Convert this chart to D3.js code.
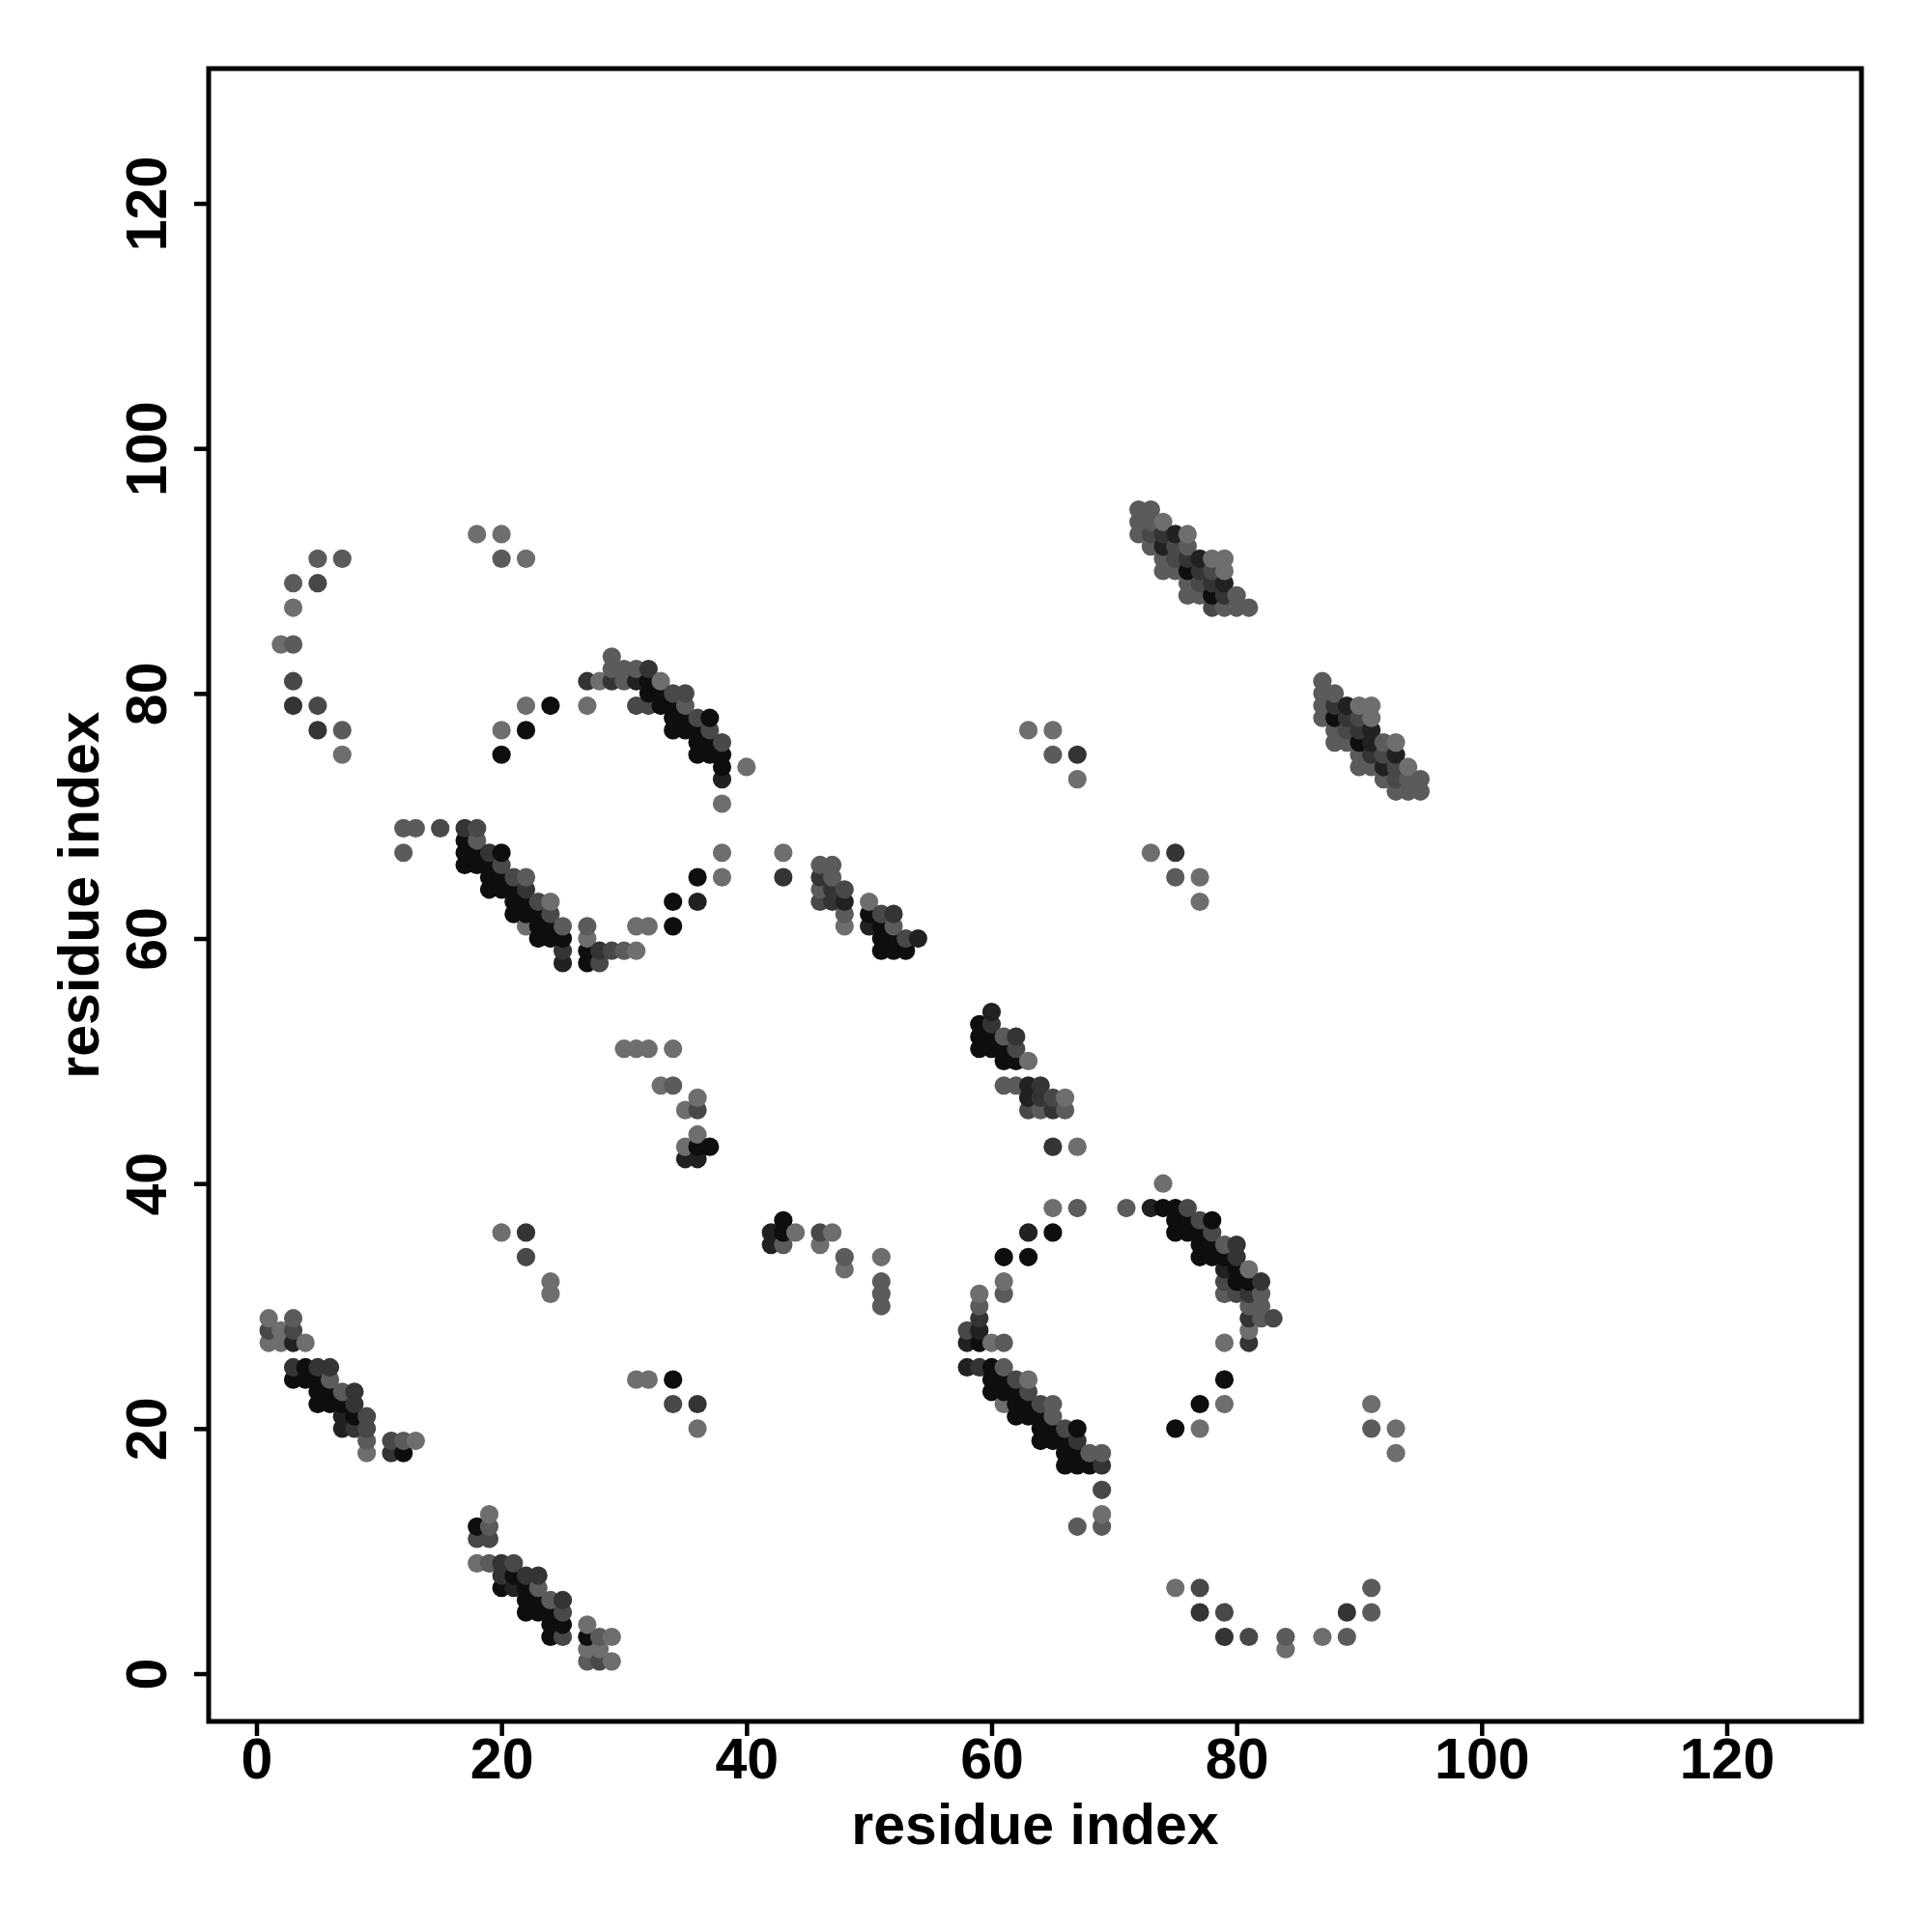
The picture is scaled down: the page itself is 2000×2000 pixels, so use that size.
<!DOCTYPE html>
<html>
<head>
<meta charset="utf-8">
<script src="https://cdn.jsdelivr.net/npm/d3@7"></script>
<style>
  html, body { margin: 0; padding: 0; background: #ffffff; }
  svg { display: block; }
</style>
</head>
<body>
<div id="chart"></div>
<script>
// Contacts (residue i, residue j) grouped by predicted confidence level (darker = higher)
const confidenceLevels = [0.95, 0.8, 0.65, 0.5, 0.35, 0.2];

const contactsLevel1 = [
  [24,79],[22,77],[20,75],
  [32,81],[32,80],[33,80],[33,79],[34,79],[34,78],[35,78],[37,78],[34,77],[35,77],[36,77],[36,76],[37,76],[36,75],[37,75],[38,75],[38,74],[36,65],[34,63],[34,61],
  [17,68],[17,67],[18,67],[20,67],[17,66],[18,66],[19,66],[19,65],[20,65],[19,64],[20,64],[21,64],[21,63],[22,63],[21,62],[22,62],[23,62],[23,61],[24,61],[23,60],[24,60],[25,60],[27,59],[27,58],
  [50,62],[51,61],[51,60],[52,60],[51,59],[52,59],[53,59],
  [76,90],[78,88],[88,78],[90,76],
  [36,43],[37,43],[43,37],[43,36],
  [59,53],[59,52],[60,52],[59,51],[60,51],[61,51],[61,50],[62,50],[65,36],[61,34],[63,34],
  [59,27],[60,25],[60,24],[61,24],[60,23],[61,23],[62,23],[62,22],[63,22],[62,21],[63,21],[64,21],[64,20],[65,20],[67,20],[64,19],[65,19],[66,19],[66,18],[67,18],[66,17],[67,17],[68,17],
  [74,38],[75,38],[75,37],[76,37],[78,37],[75,36],[76,36],[77,36],[77,35],[78,35],[77,34],[78,34],[79,34],[80,33],[80,32],[81,32],[79,24],[77,22],[75,20],
  [4,25],[3,24],[4,24],[5,24],[5,23],[6,23],[5,22],[6,22],[7,22],[8,21],[12,18],[34,24],
  [18,12],[21,8],[20,7],[22,7],[22,6],[23,6],[22,5],[23,5],[24,5],[24,4],[25,4],[24,3],[27,3]
];

const contactsLevel2 = [
  [31,81],[38,73],[36,63],[25,58],[48,63],[50,61],[54,60],[75,93],[74,92],[77,91],[79,89],[89,79],[91,77],[91,76],[93,75],[92,74],
  [35,42],[36,42],[42,36],[42,35],[60,54],[63,48],[63,47],[63,36],[59,28],[58,27],[58,25],[73,38],[79,33],[3,27],[7,21],[7,20],[21,7]
];

const contactsLevel3 = [
  [3,79],[5,77],[32,82],[27,81],[29,81],[17,69],[19,67],[22,64],[25,59],[28,59],[43,65],[46,65],[47,64],[47,63],[52,62],
  [74,93],[76,91],[77,90],[78,89],[79,88],[88,79],[89,78],[90,77],[91,75],[67,75],[75,67],[22,36],[60,53],[62,52],[64,48],[64,47],[65,46],[65,43],
  [59,29],[59,25],[67,19],[69,17],[80,35],[80,34],[82,32],[81,31],[81,29],[81,27],[3,25],[5,25],[6,25],[8,23],[8,22],[8,20],[11,18],[36,22],
  [20,9],[20,8],[22,8],[23,8],[25,6],[77,5],[79,3],[89,5]
];

const contactsLevel4 = [
  [5,89],[3,81],[5,79],[34,80],[35,80],[31,79],[32,79],[36,78],[37,77],[38,76],[15,69],[18,69],[20,66],[21,65],[23,63],[24,62],[29,59],[28,58],
  [48,64],[46,63],[51,62],[53,60],[73,93],[75,92],[75,91],[78,90],[77,89],[78,87],[90,78],[89,77],[92,75],[93,74],[93,73],[36,46],[22,34],[46,36],
  [62,51],[65,47],[63,46],[58,28],[62,24],[63,23],[64,22],[66,20],[69,15],[76,38],[77,37],[78,36],[79,32],[80,31],[83,29],
  [1,28],[3,28],[9,21],[9,20],[11,19],[34,22],[18,11],[19,11],[21,9],[25,5],[25,3],[28,1],[77,7],[79,5],[81,3]
];

const contactsLevel5 = [
  [5,91],[7,91],[20,91],[3,89],[3,84],[7,77],[29,83],[29,82],[30,82],[31,82],[30,81],[35,79],[12,69],[13,69],[12,67],[18,68],[22,65],[25,61],[27,61],[30,59],
  [46,66],[47,66],[47,65],[46,64],[48,62],[52,61],
  [72,95],[73,95],[72,94],[73,94],[72,93],[73,92],[76,92],[74,91],[74,90],[75,90],[76,89],[76,88],[77,88],[80,88],[79,87],[80,87],[81,87],
  [87,81],[87,80],[88,80],[87,79],[87,78],[88,77],[88,76],[89,76],[92,76],[90,75],[90,74],[91,74],[92,73],[94,73],[95,73],[93,72],[94,72],[95,72],
  [65,75],[75,65],[34,48],[43,35],[48,34],[51,32],[51,31],[51,30],
  [61,52],[61,48],[62,48],[64,46],[66,46],[67,38],
  [61,31],[59,30],[61,27],[61,25],[65,22],[65,21],[68,18],[69,18],[69,12],[67,12],
  [71,38],[79,35],[79,31],[82,31],[81,30],[82,30],[82,29],
  [3,29],[6,24],[7,23],[9,19],[12,19],
  [19,12],[19,9],[23,7],[24,6],[28,3],[27,1],
  [91,20],[84,3],[89,3],[91,5],[91,7]
];

const contactsLevel6 = [
  [18,93],[20,93],[22,91],[3,87],[2,84],[7,75],[22,79],[20,77],
  [28,81],[33,81],[27,79],[40,74],[38,71],[38,67],[38,65],[24,63],[22,61],[31,61],[32,61],[27,60],[31,59],
  [43,67],[48,61],[50,63],
  [74,94],[76,93],[78,91],[79,91],[79,90],
  [90,79],[91,79],[91,78],[93,76],[94,74],
  [63,77],[65,77],[67,73],[73,67],[77,65],[77,63],
  [30,51],[31,51],[32,51],[34,51],[33,48],[36,47],[35,46],[36,44],[35,43],[20,36],[24,32],[24,31],[44,36],[47,36],[46,35],[48,33],[51,34],
  [63,50],[66,47],[67,43],[65,38],
  [61,32],[59,31],[60,27],[63,24],[61,22],[69,13],
  [74,40],[81,33],[81,28],[79,27],[79,22],[77,20],
  [1,29],[2,28],[1,27],[2,27],[4,27],[9,18],[13,19],[31,24],[32,24],[36,20],
  [19,13],[18,9],[27,4],[29,3],[27,2],[28,2],[29,1],
  [91,22],[93,20],[93,18],[75,7],[84,2],[87,3]
];

const tickValues = [0, 20, 40, 60, 80, 100, 120];
const xLabel = "residue index";
const yLabel = "residue index";

// ---- layout ----
const W = 2000, H = 2000;
const box = { left: 216, right: 1927, top: 71, bottom: 1782 };
const fontFamily = "'Liberation Sans', Arial, Helvetica, sans-serif";

const groups = [contactsLevel1, contactsLevel2, contactsLevel3, contactsLevel4, contactsLevel5, contactsLevel6];
const points = [];
groups.forEach((g, k) => g.forEach(([i, j]) => points.push({ i, j, p: confidenceLevels[k] })));
points.sort((a, b) => a.i - b.i || a.j - b.j);

const x = d3.scaleLinear().domain([-3.9, 131]).range([box.left, box.right]);
const y = d3.scaleLinear().domain([-3.9, 131]).range([box.bottom, box.top]);
const gray = d3.scaleLinear().domain([0.2, 0.95]).range(["#6e6e6e", "#0e0e0e"]);

const svg = d3.select("#chart").append("svg")
  .attr("width", W).attr("height", H)
  .attr("xmlns", "http://www.w3.org/2000/svg");
svg.append("rect").attr("width", W).attr("height", H).attr("fill", "#ffffff");

// points
svg.append("g").selectAll("circle")
  .data(points)
  .join("circle")
  .attr("cx", d => x(d.i))
  .attr("cy", d => y(d.j))
  .attr("r", 9.6)
  .attr("fill", d => gray(d.p));

// x axis
const xAxis = svg.append("g")
  .attr("transform", `translate(0,${box.bottom})`)
  .call(d3.axisBottom(x).tickValues(tickValues).tickSize(15).tickSizeOuter(0));
xAxis.select(".domain").remove();
xAxis.selectAll(".tick line").attr("stroke", "#000").attr("stroke-width", 4.5);
xAxis.selectAll(".tick text")
  .attr("y", 59).attr("dy", 0)
  .attr("font-family", fontFamily).attr("font-weight", "bold").attr("font-size", 59)
  .attr("fill", "#000");

// y axis
const yAxis = svg.append("g")
  .attr("transform", `translate(${box.left},0)`)
  .call(d3.axisLeft(y).tickValues(tickValues).tickSize(15).tickSizeOuter(0));
yAxis.select(".domain").remove();
yAxis.selectAll(".tick line").attr("stroke", "#000").attr("stroke-width", 4.5);
yAxis.selectAll(".tick text")
  .attr("x", null).attr("dy", 0)
  .attr("text-anchor", "middle")
  .attr("transform", "translate(-44,0) rotate(-90)")
  .attr("font-family", fontFamily).attr("font-weight", "bold").attr("font-size", 59)
  .attr("fill", "#000");

// box
svg.append("rect")
  .attr("x", box.left).attr("y", box.top)
  .attr("width", box.right - box.left).attr("height", box.bottom - box.top)
  .attr("fill", "none").attr("stroke", "#000").attr("stroke-width", 5);

// axis titles
svg.append("text")
  .attr("x", (box.left + box.right) / 2).attr("y", 1909)
  .attr("text-anchor", "middle")
  .attr("font-family", fontFamily).attr("font-weight", "bold").attr("font-size", 59)
  .text(xLabel);

svg.append("text")
  .attr("transform", `translate(102,${(box.top + box.bottom) / 2}) rotate(-90)`)
  .attr("text-anchor", "middle")
  .attr("font-family", fontFamily).attr("font-weight", "bold").attr("font-size", 59)
  .text(yLabel);
</script>
</body>
</html>
